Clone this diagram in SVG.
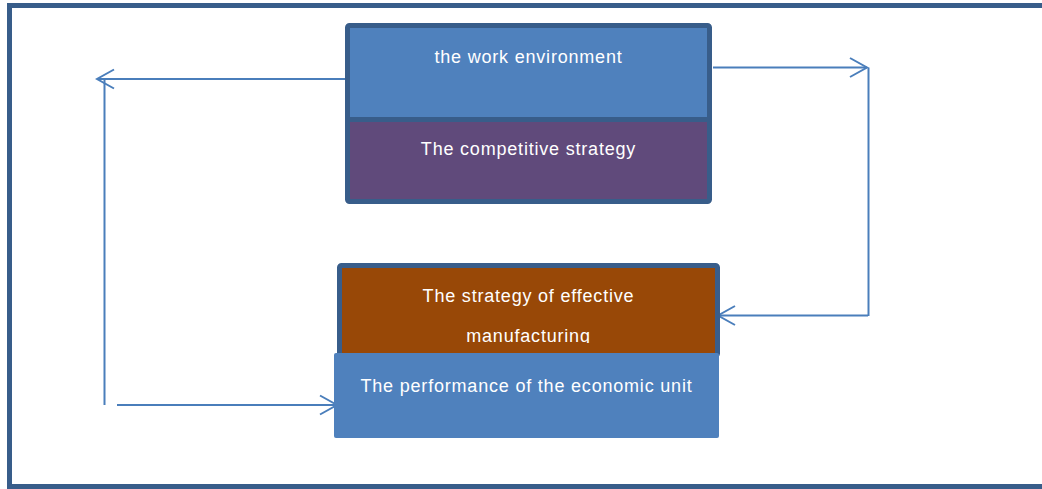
<svg xmlns="http://www.w3.org/2000/svg" width="1042" height="489" viewBox="0 0 1042 489">
<style>
.lbl{font-family:"Liberation Sans",Arial,sans-serif;font-size:18px;fill:#ffffff;text-anchor:middle;letter-spacing:0.8px}
.conn{stroke:#4A7EBB;stroke-width:2;fill:none}
</style>
<defs>
<marker id="arr" markerUnits="userSpaceOnUse" viewBox="-20 -12 22 24" refX="0" refY="0" markerWidth="22" markerHeight="24" orient="auto">
<path d="M -17 -9.5 L 0 0 L -17 9.5" fill="none" stroke="#4A7EBB" stroke-width="2"/>
</marker>
<clipPath id="clipManu"><rect x="337" y="263" width="383" height="80"/></clipPath>
</defs>
<rect width="1042" height="489" fill="#ffffff"/>
<rect id="frame" x="9.5" y="5.5" width="1045" height="481" fill="none" stroke="#385D8A" stroke-width="5"/>

<g id="connectors">
<polyline class="conn" points="357,79 97,79" marker-end="url(#arr)"/>
<line class="conn" x1="104.5" y1="79" x2="104.5" y2="405"/>
<polyline class="conn" points="117,405 337,405" marker-end="url(#arr)"/>
<polyline class="conn" points="713,67.5 867,67.5" marker-end="url(#arr)"/>
<line class="conn" x1="868.5" y1="67.5" x2="868.5" y2="316"/>
<polyline class="conn" points="868,315.5 718,315.5" marker-end="url(#arr)"/>
</g>

<g id="node-top">
<rect x="347.5" y="25.5" width="362" height="176" rx="2" fill="#4F81BD" stroke="#385D8A" stroke-width="5"/>
<rect x="350" y="120" width="357" height="79" fill="#604A7B"/>
<line x1="347.5" y1="119.5" x2="709.5" y2="119.5" stroke="#385D8A" stroke-width="5"/>
<text class="lbl" x="528.5" y="62.5">the work environment</text>
<text class="lbl" x="528.5" y="155">The competitive strategy</text>
</g>

<g id="node-manufacturing">
<rect x="339.5" y="265.5" width="378" height="90" rx="2" fill="#984807" stroke="#385D8A" stroke-width="5"/>
<text class="lbl" x="528.5" y="301.5">The strategy of effective</text>
<text class="lbl" x="528.5" y="341.5" clip-path="url(#clipManu)">manufacturing</text>
</g>

<g id="node-performance">
<rect x="334" y="353" width="385" height="85" rx="2" fill="#4F81BD"/>
<text class="lbl" x="526.5" y="391.5">The performance of the economic unit</text>
</g>
</svg>
